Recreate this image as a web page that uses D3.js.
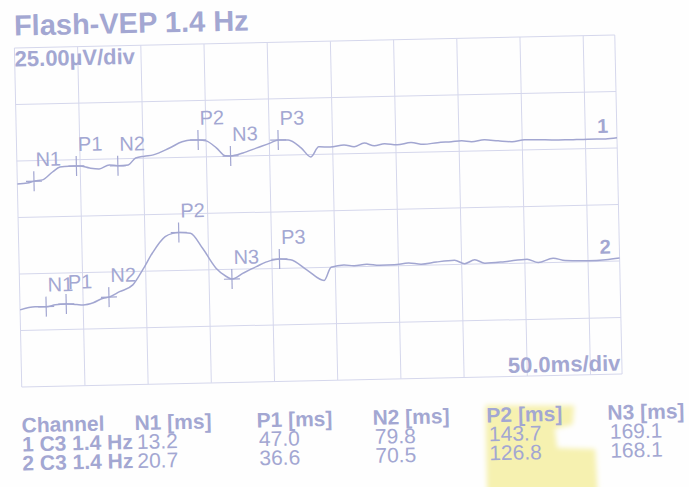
<!DOCTYPE html>
<html>
<head>
<meta charset="utf-8">
<title>Flash-VEP 1.4 Hz</title>
<script src="https://cdn.jsdelivr.net/npm/d3@7"></script>
<style>
  body { margin: 0; background: #fff; }
  svg { display: block; font-family: "Liberation Sans", Arial, sans-serif; }
  .grid line { stroke: #d5d7ec; stroke-width: 1; }
  .trace { fill: none; stroke: #a2a6d1; stroke-width: 1.5; stroke-linejoin: round; }
  .cross line { stroke: #a2a6d1; stroke-width: 1.2; }
  text { fill: #a3a7d2; }
</style>
</head>
<body>
<svg></svg>
<script>
// peak names and latencies (ms) per channel, P3 is not in the table
var peakNames = ["N1", "P1", "N2", "P2", "N3", "P3"];
var ch1Latency = [13.2, 47.0, 79.8, 143.7, 169.1, 207.0];
var ch2Latency = [20.7, 36.6, 70.5, 126.8, 168.1, 206.0];

// traces (time ms, amplitude uV)
var ch1Time = [0, 8, 14, 20, 28, 34, 41, 49.5, 57.5, 65, 73, 79.8, 88, 94, 101, 108, 121, 131, 138, 143.7,
  150, 158, 165, 169.1, 179, 190, 201, 207, 215, 225, 232.6, 239, 248, 259, 267, 275, 283, 291, 301, 312,
  322, 333, 344, 352, 360, 370, 381, 392, 402, 418, 434, 452, 466, 475];
var ch1Amp = [-14.4, -14.0, -13.2, -12.8, -9.4, -7.3, -7.0, -7.0, -8.0, -8.5, -6.8, -7.3, -7.0, -4.0, -3.3, -2.8, 0.1, 2.7, 3.4, 3.4,
  2.9, -0.3, -3.9, -4.0, -2.8, -0.7, 1.4, 2.6, 2.5, -1.1, -5.2, -0.8, -1.0, -0.2, -1.1, 0.4, -0.9, -0.1, -0.7, 0.2,
  -0.7, -0.1, 0.2, 0.5, 0, 0.7, 0.1, -0.4, 0.3, 0.1, -0.1, 0, -0.1, 0.3];

var ch2Time = [0, 12, 20.7, 28, 36.6, 45, 50, 58, 66, 70.5, 79, 89.6, 97.6, 105.6, 116, 122, 126.8, 136, 145.4, 155.7,
  163.7, 168.1, 177, 187.6, 198.7, 206, 214.7, 227.4, 241, 246.7, 256.8, 265, 275, 285, 296.7, 308, 318, 330, 344.4, 352.4,
  360.4, 368.4, 384, 401.8, 410.6, 422.4, 432, 450, 464, 475];
var ch2Amp = [-16.6, -15.4, -15.4, -14.7, -14.4, -14.8, -15.0, -14.1, -12.2, -11.8, -9.5, -6.6, -0.1, 7.3, 14.4, 15.8, 16.1, 15.7, 8.9, 0,
  -3.8, -5.0, -2.5, 0.3, 2.8, 3.4, 3.0, -1.6, -6.5, -0.7, 0.2, -0.3, 0.3, -0.3, -0.2, 0.4, -0.2, 0.6, 1.2, -0.4,
  1.2, -0.4, 0.1, 1.0, -0.6, 1.2, 0, -0.3, 0, 0.6];

var tableHeaders = ["Channel", "N1 [ms]", "P1 [ms]", "N2 [ms]", "P2 [ms]", "N3 [ms]"];
var channelNames = ["1 C3 1.4 Hz", "2 C3 1.4 Hz"];

var width = 689, height = 487;
var svg = d3.select("svg").attr("width", width).attr("height", height);
svg.append("rect").attr("width", width).attr("height", height).attr("fill", "#fefefe");

// soft edge for the highlighter
svg.append("defs").append("filter").attr("id", "soft")
  .append("feGaussianBlur").attr("stdDeviation", 2.5);

// the scanned page sits slightly tilted
var page = svg.append("g").attr("transform", "rotate(-1.24, 318, 211)");

var x = d3.scaleLinear().domain([0, 475]).range([18, 618.5]);
var y = d3.scaleLinear().domain([0, 150]).range([380.5, 41.5]); // 25 uV/div
var baselines = [104.2, 50.7];

// highlighter stroke over the P2 column
var colX = [17, 130, 252, 368, 482, 603];
var rowY = [426, 445, 464];
var hx = colX[4];
page.append("path")
  .attr("d", "M" + (hx - 1) + "," + (rowY[0] - 17) + "L" + (hx + 88) + "," + (rowY[0] - 15) +
    "L" + (hx + 86) + "," + (rowY[0] + 4) + "L" + (hx + 68) + "," + (rowY[0] + 8) +
    "L" + (hx + 70) + "," + (rowY[1] + 8) + "L" + (hx + 108) + "," + (rowY[1] + 10) +
    "L" + (hx + 110) + ",510L" + (hx - 1) + ",510Z")
  .attr("fill", "#f6f1b0").attr("filter", "url(#soft)");

// grid
var grid = page.append("g").attr("class", "grid");
grid.selectAll(".v").data(d3.range(0, 451, 50).concat([475])).enter().append("line")
  .attr("x1", d => x(d)).attr("x2", d => x(d))
  .attr("y1", y(150)).attr("y2", y(0));
grid.selectAll(".h").data(d3.range(0, 151, 25)).enter().append("line")
  .attr("x1", x(0)).attr("x2", x(475))
  .attr("y1", d => y(d)).attr("y2", d => y(d));

function ampAt(times, amps, t) {
  var i = d3.bisectLeft(times, t);
  if (i <= 0) return amps[0];
  if (i >= times.length) return amps[amps.length - 1];
  var f = (t - times[i - 1]) / (times[i] - times[i - 1]);
  return amps[i - 1] + f * (amps[i] - amps[i - 1]);
}

var channels = [
  { time: ch1Time, amp: ch1Amp, lat: ch1Latency, base: baselines[0], name: "1" },
  { time: ch2Time, amp: ch2Amp, lat: ch2Latency, base: baselines[1], name: "2" }
];

var line = d3.line().curve(d3.curveMonotoneX);

channels.forEach(function(ch) {
  var pts = ch.time.map((t, i) => [x(t), y(ch.base + ch.amp[i])]);
  page.append("path").attr("class", "trace").attr("d", line(pts));

  var marks = page.append("g").attr("class", "cross").selectAll("g")
    .data(ch.lat).enter().append("g")
    .attr("transform", (t) => "translate(" + x(t) + "," + y(ch.base + ampAt(ch.time, ch.amp, t)) + ")");
  marks.append("line").attr("x1", 0).attr("x2", 0).attr("y1", -10).attr("y2", 10);
  marks.append("line").attr("x1", -8).attr("x2", 8).attr("y1", 0).attr("y2", 0);
  marks.append("text").attr("x", 2).attr("y", -15)
    .style("font-size", "20px")
    .text((d, i) => peakNames[i]);

  page.append("text")
    .attr("x", 610).attr("y", y(ch.base) - 6)
    .attr("text-anchor", "end")
    .style("font-size", "20px").style("font-weight", "bold")
    .text(ch.name);
});

// titles
page.append("text").attr("x", 18).attr("y", 29)
  .style("font-size", "29px").style("font-weight", "bold")
  .text("Flash-VEP 1.4 Hz");
page.append("text").attr("x", 18).attr("y", 60)
  .style("font-size", "22px").style("font-weight", "bold")
  .text("25.00\u00b5V/div");
page.append("text").attr("x", 617).attr("y", 377).attr("text-anchor", "end")
  .style("font-size", "22px").style("font-weight", "bold")
  .text("50.0ms/div");

// latency table
var table = page.append("g").style("font-size", "21px");
table.selectAll(".hd").data(tableHeaders).enter().append("text")
  .attr("x", (d, i) => colX[i]).attr("y", rowY[0])
  .style("font-weight", "bold")
  .text(d => d);
channels.forEach(function(ch, r) {
  table.append("text").attr("x", colX[0]).attr("y", rowY[r + 1])
    .style("font-weight", "bold").text(channelNames[r]);
  table.selectAll(".v" + r).data(ch.lat.slice(0, 5)).enter().append("text")
    .attr("x", (d, i) => colX[i + 1] + 2).attr("y", rowY[r + 1])
    .text(d => d.toFixed(1));
});
</script>
</body>
</html>
